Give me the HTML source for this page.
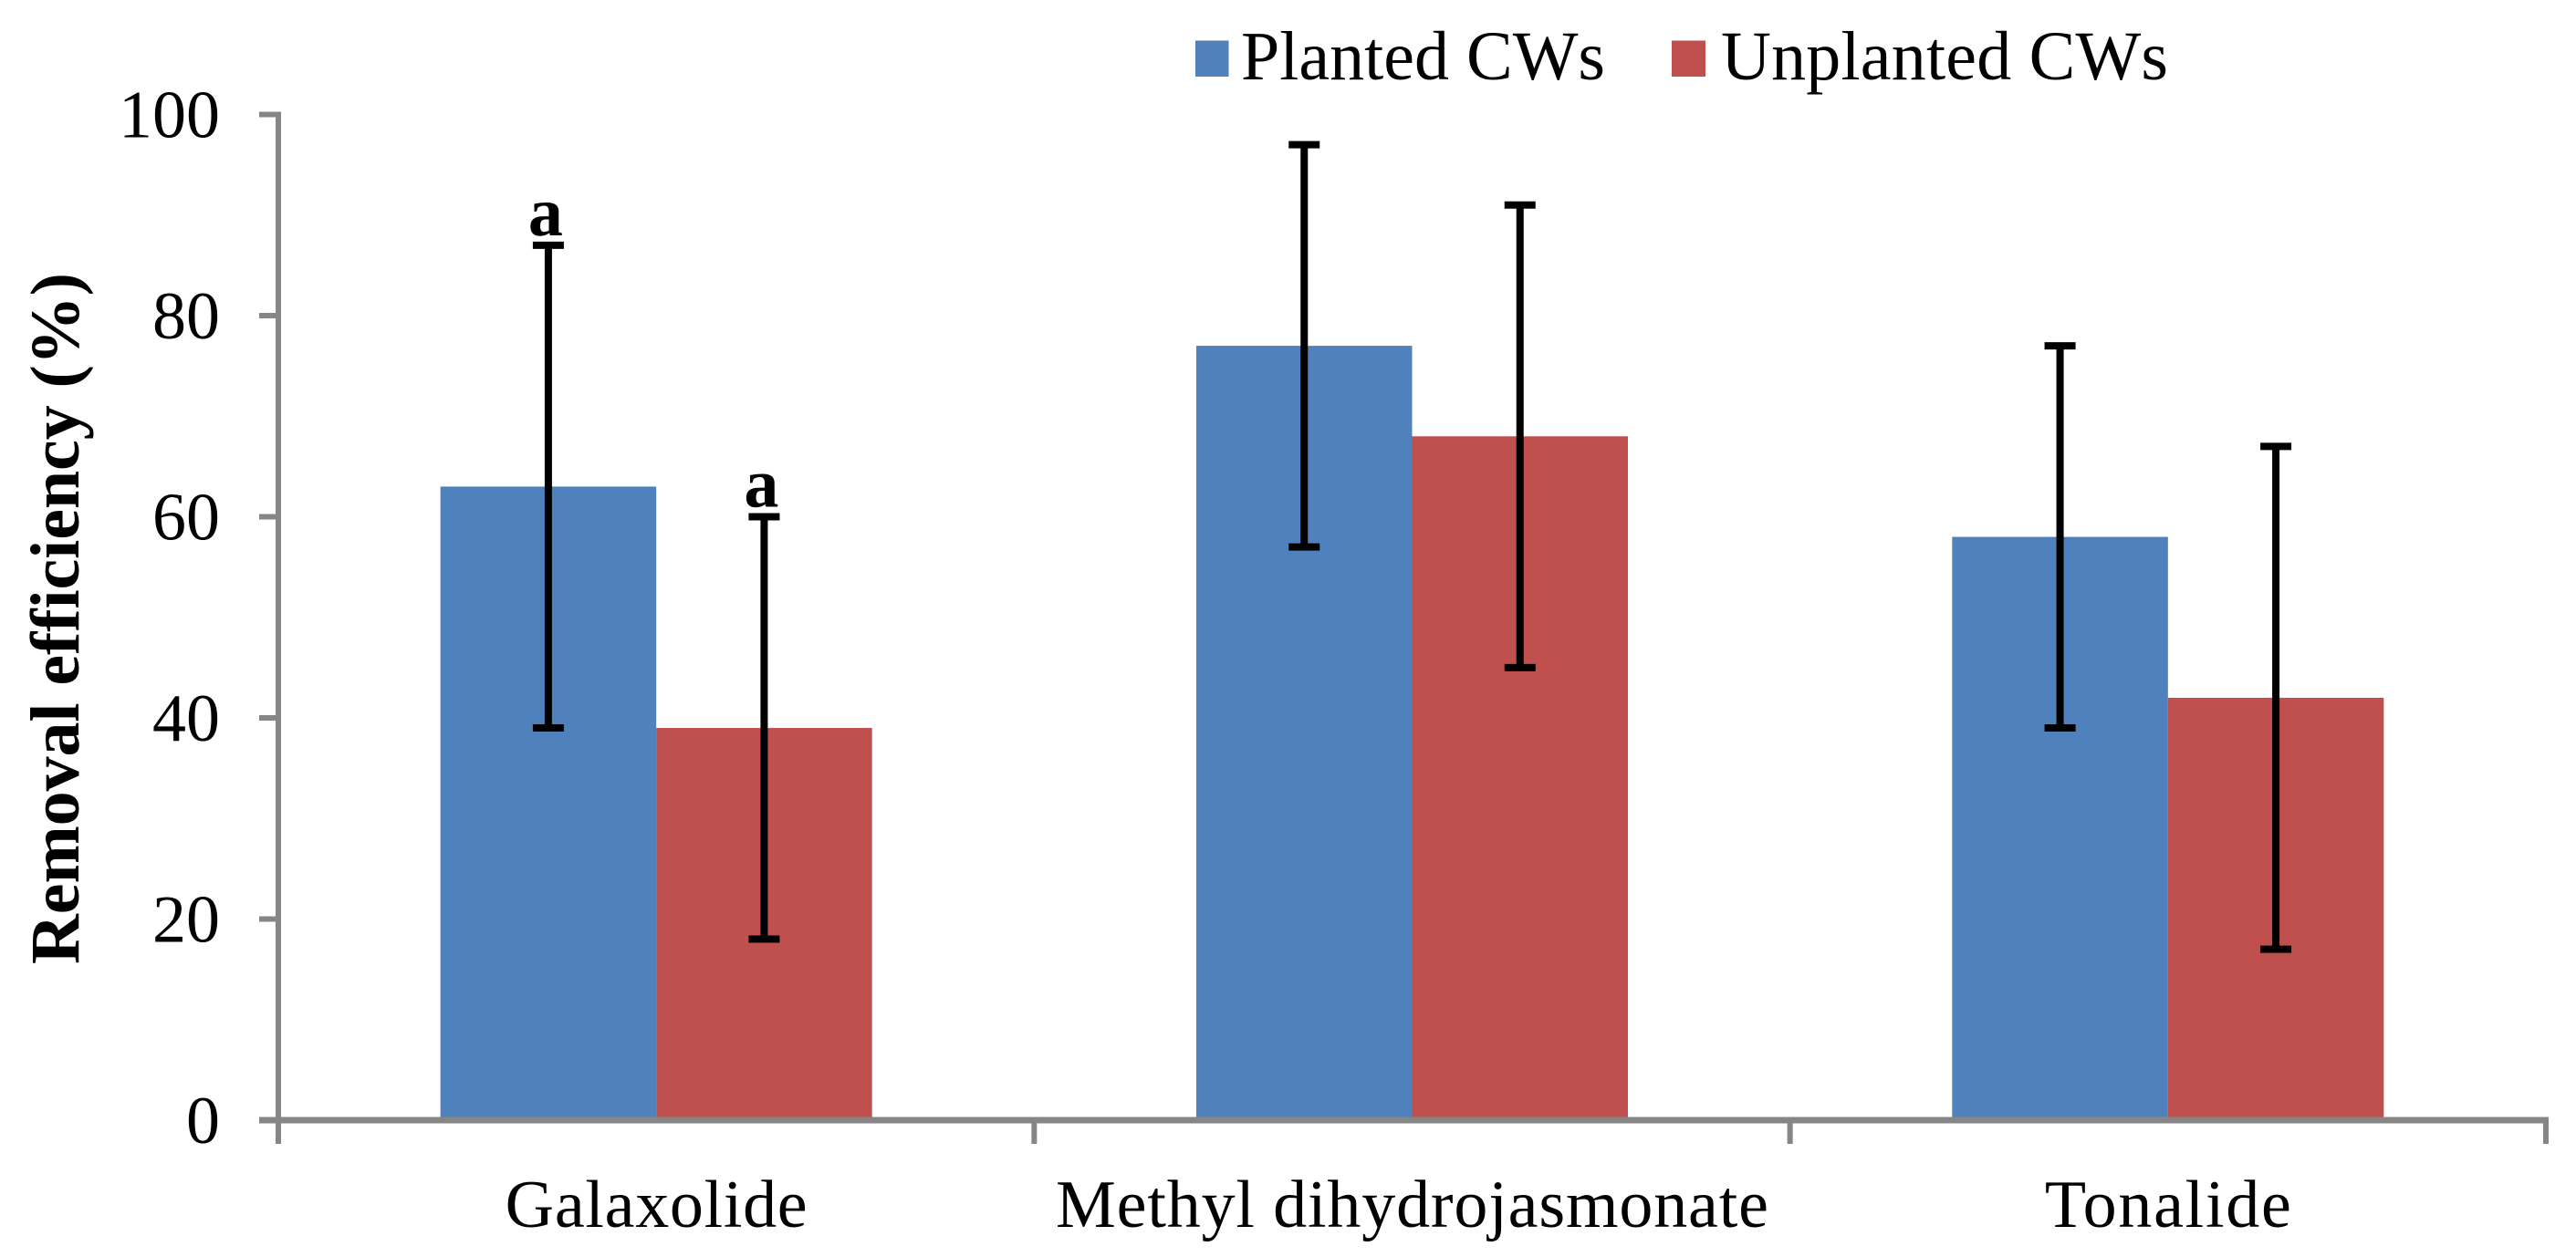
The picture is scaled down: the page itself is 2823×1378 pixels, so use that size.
<!DOCTYPE html>
<html lang="en">
<head>
<meta charset="utf-8">
<title>Removal efficiency chart</title>
<style>
  html, body { margin: 0; padding: 0; background: #fff; }
  svg { display: block; }
  text { font-family: "Liberation Serif", serif; fill: #000; }
</style>
</head>
<body>
<svg id="chart" xmlns="http://www.w3.org/2000/svg" width="2823" height="1378" viewBox="0 0 2823 1378">
  <rect x="0" y="0" width="2823" height="1378" fill="#ffffff"/>
  <g id="bars"></g>
  <g id="axes"></g>
  <g id="errors"></g>
  <g id="labels"></g>

  <text transform="translate(86,678) rotate(-90)" text-anchor="middle" font-size="76" font-weight="bold" textLength="758" lengthAdjust="spacing">Removal efficiency (%)</text>

  <g>
    <g>
      <rect x="1310" y="44.5" width="36.5" height="39.5" fill="#4f81bd"/>
      <text x="1360" y="87" font-size="76" textLength="399" lengthAdjust="spacing">Planted CWs</text>
    </g>
    <g>
      <rect x="1832" y="44.5" width="37" height="39.5" fill="#c0504d"/>
      <text x="1886" y="87" font-size="76" textLength="490" lengthAdjust="spacing">Unplanted CWs</text>
    </g>
  </g>
</svg>
<script>
const categories = ["Galaxolide", "Methyl dihydrojasmonate", "Tonalide"];
const plantedValues = [63, 77, 58];
const unplantedValues = [39, 68, 42];
const plantedUpper = [87, 97, 77];
const plantedLower = [39, 57, 39];
const unplantedUpper = [60, 91, 67];
const unplantedLower = [18, 45, 17];
const plantedMarks = ["a", "", ""];
const unplantedMarks = ["a", "", ""];
const yTicks = [0, 20, 40, 60, 80, 100];
const categoryLabelLengths = [331, 781, 270];

const NS = "http://www.w3.org/2000/svg";
const plotLeft = 305, plotRight = 2790, plotTop = 125.5, plotBottom = 1228;
const barWidth = 236.5;
const AXIS = "#868686";

function yScale(v) { return plotBottom - (v / 100) * (plotBottom - plotTop); }
function bandWidth() { return (plotRight - plotLeft) / categories.length; }
function xCenter(i) { return plotLeft + bandWidth() * (i + 0.5); }

function make(tag, attrs, parent) {
  const el = document.createElementNS(NS, tag);
  for (const k in attrs) el.setAttribute(k, attrs[k]);
  parent.appendChild(el);
  return el;
}

const barsG = document.getElementById("bars");
const axesG = document.getElementById("axes");
const errG = document.getElementById("errors");
const labelsG = document.getElementById("labels");

function drawBar(i, value, offsetSign, color, seriesName) {
  const cx = xCenter(i);
  const x = offsetSign < 0 ? cx - barWidth : cx;
  const r = make("rect", { x: x, y: yScale(value), width: barWidth, height: plotBottom - yScale(value), fill: color }, barsG);
  
  
}

function drawError(i, hi, lo, offsetSign, seriesName) {
  const cx = xCenter(i) + offsetSign * barWidth / 2;
  const capW = 34;
  const g = make("g", {}, errG);
  
  
  make("line", { x1: cx, x2: cx, y1: yScale(hi), y2: yScale(lo), stroke: "#000", "stroke-width": 8 }, g);
  make("line", { x1: cx - capW / 2, x2: cx + capW / 2, y1: yScale(hi), y2: yScale(hi), stroke: "#000", "stroke-width": 8 }, g);
  make("line", { x1: cx - capW / 2, x2: cx + capW / 2, y1: yScale(lo), y2: yScale(lo), stroke: "#000", "stroke-width": 8 }, g);
}

function drawMark(i, mark, hi, offsetSign, seriesName) {
  if (!mark) return;
  const t = make("text", { x: xCenter(i) + offsetSign * barWidth / 2 - 3, y: yScale(hi) - 11, "text-anchor": "middle", "font-size": 76, "font-weight": "bold" }, labelsG);
  
  
  t.textContent = mark;
}

categories.forEach(function (name, i) {
  drawBar(i, plantedValues[i], -1, "#4f81bd", "planted");
  drawBar(i, unplantedValues[i], 1, "#c0504d", "unplanted");
  drawError(i, plantedUpper[i], plantedLower[i], -1, "planted");
  drawError(i, unplantedUpper[i], unplantedLower[i], 1, "unplanted");
  drawMark(i, plantedMarks[i], plantedUpper[i], -1, "planted");
  drawMark(i, unplantedMarks[i], unplantedUpper[i], 1, "unplanted");

  const t = make("text", { x: xCenter(i), y: 1345, "text-anchor": "middle", "font-size": 74, textLength: categoryLabelLengths[i], lengthAdjust: "spacing" }, labelsG);
  
  
  t.textContent = name;
});

const yAxisLine = make("line", { x1: plotLeft, x2: plotLeft, y1: plotTop - 3, y2: plotBottom + 26, stroke: AXIS, "stroke-width": 6 }, axesG);



const xAxisLine = make("line", { x1: plotLeft - 21, x2: plotRight + 3, y1: plotBottom, y2: plotBottom, stroke: AXIS, "stroke-width": 7 }, axesG);



yTicks.forEach(function (v) {
  const y = yScale(v);
  const tick = make("line", { x1: plotLeft - 21, x2: plotLeft, y1: y, y2: y, stroke: AXIS, "stroke-width": 6 }, axesG);
  
  
  const t = make("text", { x: 241, y: y + 25, "text-anchor": "end", "font-size": 74 }, labelsG);
  
  
  t.textContent = String(v);
});

for (let i = 1; i <= categories.length; i++) {
  const x = plotLeft + bandWidth() * i;
  const tick = make("line", { x1: x, x2: x, y1: plotBottom, y2: plotBottom + 26, stroke: AXIS, "stroke-width": 6 }, axesG);
  
  
}
</script>
</body>
</html>
